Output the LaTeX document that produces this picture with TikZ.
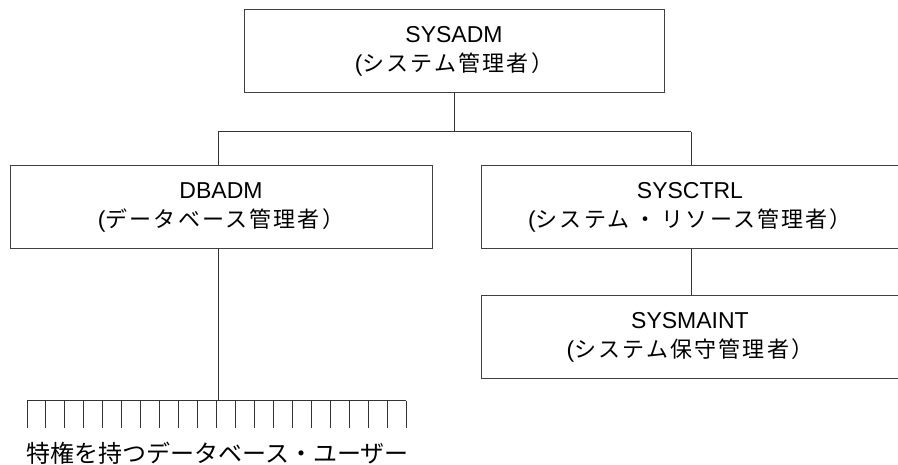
\documentclass[tikz,border=0pt]{standalone}
\usepackage{fontspec}
\usetikzlibrary{calc}
\setmainfont{Liberation Sans}
\newfontfamily\cjk{Noto Sans CJK JP}
\newfontfamily\cjksp[LetterSpace=10]{Noto Sans CJK JP}
\begin{document}
\begin{tikzpicture}[x=1pt,y=-1pt,
  box/.style={draw=black!75, line width=1pt, fill=white, minimum height=83pt, inner sep=0pt,
    align=center, font=\fontsize{23}{29}\selectfont},
  wire/.style={draw=black!80, line width=1pt},
  lbl/.style={inner sep=0pt, font=\fontsize{24}{26}\selectfont\cjk}]
\useasboundingbox (0,0) rectangle (898,465);
\clip (0,0) rectangle (898,465);
\node[box, minimum width=420pt] (sysadm) at (454,51) {SYSADM\\({\cjksp\fontsize{22}{26}\selectfont システム管理者）}};
\node[box, minimum width=422pt] (dbadm) at (221,207.5) {DBADM\\({\cjksp\fontsize{22}{26}\selectfont データベース管理者）}};
\node[box, minimum width=418pt] (sysctrl) at (690,207.5) {SYSCTRL\\({\cjksp\fontsize{22}{26}\selectfont システム\hspace{5pt}・\hspace{5pt}リソース管理者）}};
\node[box, minimum width=418pt] (sysmaint) at (690,337.5) {SYSMAINT\\({\cjksp\fontsize{22}{26}\selectfont システム保守管理者）}};
\coordinate (busL) at (218,132);
\coordinate (busR) at (691,132);
\coordinate (combC) at (218,401);
\coordinate (combL) at (27,401);
\coordinate (combR) at (406,401);
\draw[wire] (sysadm.south) -- (sysadm.south |- busL);
\draw[wire] (busL) -- (busR);
\draw[wire] (busL) -- (busL |- dbadm.north);
\draw[wire] (busR) -- (busR |- sysctrl.north);
\draw[wire] (sysctrl.south -| busR) -- (sysmaint.north -| busR);
\draw[wire] (dbadm.south -| combC) -- (combC);
\draw[wire] (combL) -- (combR);
\foreach \i in {0,...,20}{
  \draw[wire] ($(combL)+(\i*18.95,0)$) -- ++(0,27);
}
\node[lbl] (users) at (217.5,453) {特権を持つデータベース・ユーザー};
\end{tikzpicture}
\end{document}
